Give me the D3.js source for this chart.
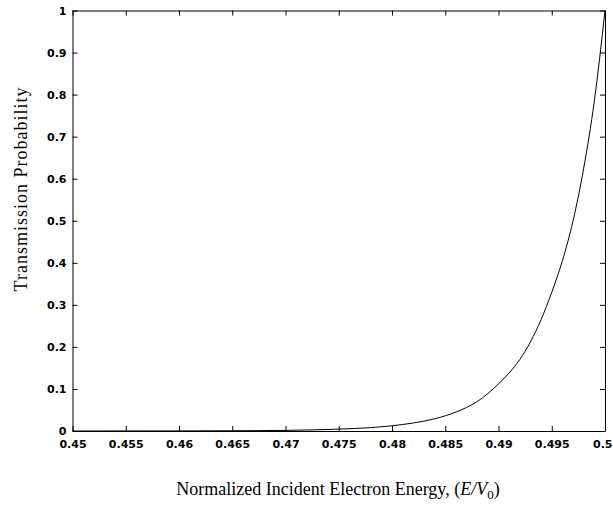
<!DOCTYPE html>
<html>
<head>
<meta charset="utf-8">
<script src="https://cdn.jsdelivr.net/npm/d3@7"></script>
<style>
    body { margin: 0; background: #fff; }
    .tick text { font-family: "DejaVu Sans", sans-serif; font-weight: bold; font-size: 11px; fill: #000; }
    .axis path, .axis line { stroke: #000; }
    .axis-label { font-family: "Liberation Serif", "Times New Roman", serif; font-size: 18px; fill: #000; }
</style>
</head>
<body>
<div id="chart"></div>
<script>
// energy E/V0 and transmission probability
const energy = [0.45, 0.46, 0.465, 0.47, 0.475, 0.478, 0.48, 0.482, 0.484, 0.486, 0.487, 0.488, 0.489,
    0.49, 0.491, 0.492, 0.493, 0.494, 0.495, 0.496, 0.497, 0.498, 0.499, 0.5];
const transmission = [0.0, 0.0002, 0.0006, 0.0015, 0.0045, 0.008, 0.0125, 0.019, 0.029, 0.045, 0.056, 0.07, 0.089,
    0.112, 0.138, 0.17, 0.212, 0.265, 0.33, 0.405, 0.5, 0.625, 0.785, 1.0];

const xTicks = [0.45, 0.455, 0.46, 0.465, 0.47, 0.475, 0.48, 0.485, 0.49, 0.495, 0.5];
const yTicks = [0, 0.1, 0.2, 0.3, 0.4, 0.5, 0.6, 0.7, 0.8, 0.9, 1];

function drawChart() {
    d3.select("#chart").html("");

    const W = 613, H = 507;
    const margin = { top: 10.5, right: 8, bottom: 76, left: 72.5 };
    const width = W - margin.left - margin.right;
    const height = H - margin.top - margin.bottom;

    const svg = d3.select("#chart")
        .append("svg")
        .attr("width", W)
        .attr("height", H);

    const g = svg.append("g")
        .attr("transform", `translate(${margin.left},${margin.top})`);

    const xScale = d3.scaleLinear().domain([0.45, 0.5]).range([0, width]);
    const yScale = d3.scaleLinear().domain([0, 1]).range([height, 0]);

    const fmt = d => String(+d.toFixed(3));

    // bottom axis, ticks point inward
    const xAxis = g.append("g")
        .attr("class", "axis")
        .attr("transform", `translate(0,${height})`)
        .call(d3.axisBottom(xScale).tickValues(xTicks).tickSizeInner(-5).tickSizeOuter(0).tickFormat(fmt));
    xAxis.selectAll(".tick text").attr("y", 9);
    // last label sits at the window edge, keep it inside
    xAxis.selectAll(".tick text").filter(d => d === 0.5)
        .attr("text-anchor", "end").attr("x", 7);

    g.append("g")
        .attr("class", "axis")
        .call(d3.axisTop(xScale).tickValues(xTicks).tickSizeInner(-5).tickSizeOuter(0).tickFormat(""));

    g.append("g")
        .attr("class", "axis")
        .call(d3.axisLeft(yScale).tickValues(yTicks).tickSizeInner(-5).tickSizeOuter(0).tickFormat(fmt))
        .selectAll(".tick text").attr("x", -6);

    g.append("g")
        .attr("class", "axis")
        .attr("transform", `translate(${width},0)`)
        .call(d3.axisRight(yScale).tickValues(yTicks).tickSizeInner(-5).tickSizeOuter(0).tickFormat(""));

    // curve
    const pts = energy.map((e, i) => [e, transmission[i]]);
    g.append("path")
        .datum(pts)
        .attr("fill", "none")
        .attr("stroke", "#000")
        .attr("stroke-width", 1)
        .attr("d", d3.line()
            .x(d => xScale(d[0]))
            .y(d => yScale(d[1]))
            .curve(d3.curveMonotoneX));

    // axis labels
    svg.append("text")
        .attr("class", "axis-label")
        .attr("transform", "translate(27,189) rotate(-90)")
        .attr("text-anchor", "middle")
        .style("letter-spacing", "1px")
        .text("Transmission Probability");

    const xl = svg.append("text")
        .attr("class", "axis-label")
        .attr("x", 338)
        .attr("y", 495)
        .attr("text-anchor", "middle");
    xl.append("tspan").text("Normalized Incident Electron Energy, (");
    xl.append("tspan").attr("font-style", "italic").text("E/V");
    xl.append("tspan").attr("dy", 4).attr("font-size", "13px").text("0");
    xl.append("tspan").attr("dy", -4).text(")");
}

drawChart();
</script>
</body>
</html>
